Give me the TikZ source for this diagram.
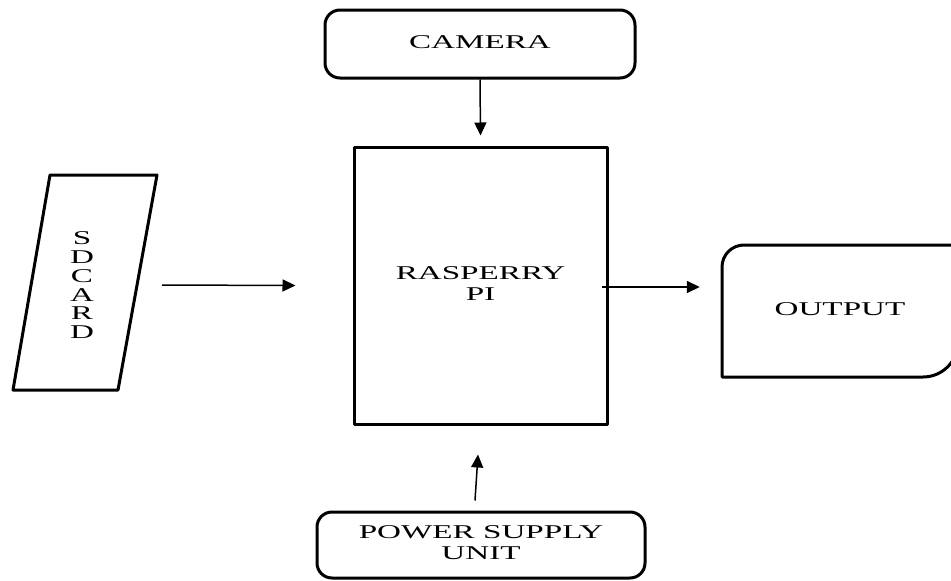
\documentclass[tikz,border=0pt]{standalone}
\usepackage{fontspec}
\setmainfont{Liberation Serif}
\usepackage{graphicx}
\usetikzlibrary{arrows.meta}
\newcommand\lbl[1]{\scalebox{1.7}[1]{\fontsize{19.5pt}{21pt}\selectfont\begin{tabular}{@{}c@{}}#1\end{tabular}}}
\newcommand\sdlbl[1]{\scalebox{1.7}[1]{\fontsize{19.5pt}{18.7pt}\selectfont\begin{tabular}{@{}c@{}}#1\end{tabular}}}
\tikzset{
  boxline/.style={line width=3pt, line join=round},
  blk/.style={boxline, draw, inner sep=0pt},
  lab/.style={inner sep=0pt},
  arr/.style={line width=1.5pt, -{Triangle[length=13pt,width=12pt]}},
}
\begin{document}
\begin{tikzpicture}[x=1pt,y=-1pt]
\useasboundingbox (0,0) rectangle (951,581);
% blocks
\node[blk, rounded corners=15pt, minimum width=310pt, minimum height=68pt] (cam) at (480,44) {\lbl{CAMERA}};
\node[blk, minimum width=253pt, minimum height=277pt] (rpi) at (480.5,285.5) {\lbl{RASPERRY\\PI}};
\node[blk, rounded corners=15pt, minimum width=328pt, minimum height=66pt] (pwr) at (481,545) {\lbl{POWER SUPPLY\\UNIT}};
% SD card parallelogram
\draw[boxline] (50,175) -- (157,175) -- (118,390) -- (13,390) -- cycle;
\node[lab] (sd) at (82,288) {\sdlbl{S\\D\\C\\A\\R\\D}};
% output shape
\node[lab, minimum width=236pt, minimum height=132pt] (out) at (840,311) {\lbl{OUTPUT}};
\draw[boxline] (980,245) -- (744,245) arc[start angle=90,end angle=180,radius=22pt] -- (722,377) -- (923,377) arc[start angle=-90,end angle=0,radius=35pt] -- (958,245);
% connectors
\draw[arr] (cam.south) -- ([yshift=10pt]rpi.north);
\draw[arr] ([xshift=80pt,yshift=3pt]sd.center) -- ([xshift=-57pt]rpi.west);
\draw[arr] ([xshift=-7pt,yshift=-1.5pt]rpi.east) -- ([xshift=-22pt,yshift=24pt]out.west);
\draw[arr] ([xshift=-6pt,yshift=10pt]pwr.north) -- ([xshift=-2.5pt,yshift=-29pt]rpi.south);
\end{tikzpicture}
\end{document}
